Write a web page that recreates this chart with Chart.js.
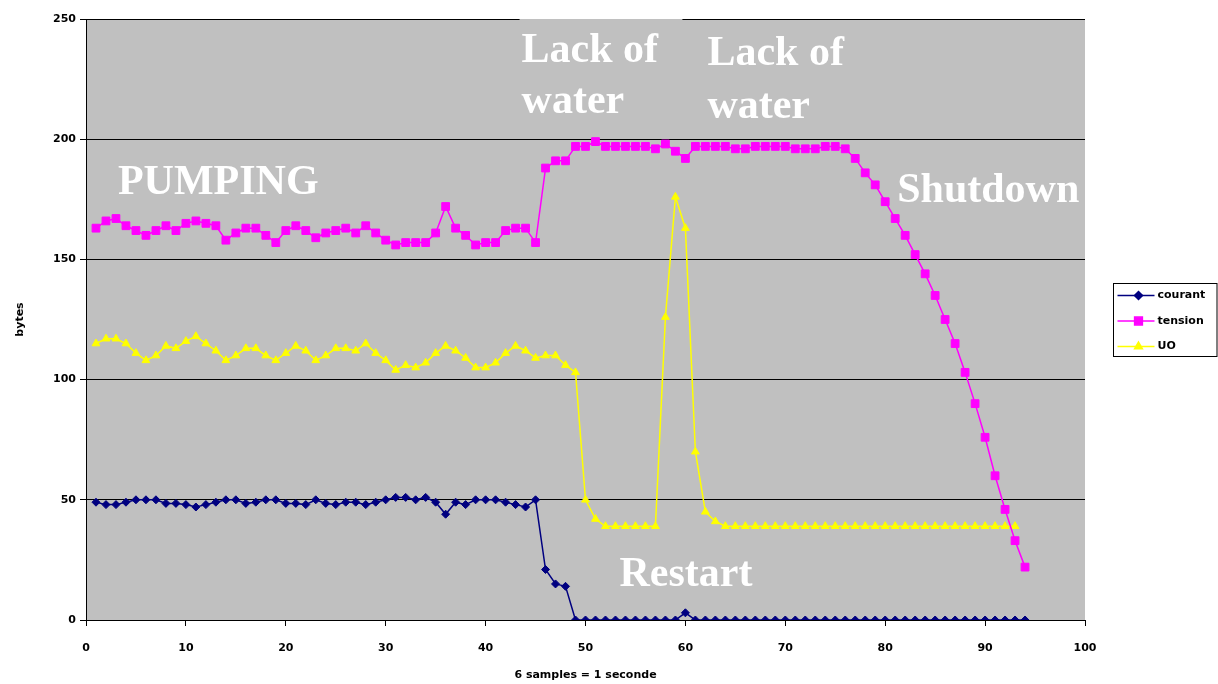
<!DOCTYPE html>
<html>
<head>
<meta charset="utf-8">
<script src="https://cdn.jsdelivr.net/npm/chart.js@4.4.1/dist/chart.umd.min.js"></script>
<style>
  html, body { margin: 0; padding: 0; background: #fff; }
  #wrap { width: 1218px; height: 684px; }
</style>
</head>
<body>
<div id="wrap"><canvas id="chart"></canvas></div>
<script>
const seriesNames = ['courant', 'tension', 'UO']

// one sample per x step, starting at 1
const courant = [
  49, 48, 48, 49, 50, 50, 50, 48.5, 48.5, 48,
  47, 48, 49, 50, 50, 48.5, 49, 50, 50, 48.5,
  48.5, 48, 50, 48.5, 48, 49, 49, 48, 49, 50,
  51, 51, 50, 51, 49, 44, 49, 48, 50, 50,
  50, 49, 48, 47, 50, 21, 15, 14, 0, 0,
  0, 0, 0, 0, 0, 0, 0, 0, 0, 3,
  0, 0, 0, 0, 0, 0, 0, 0, 0, 0,
  0, 0, 0, 0, 0, 0, 0, 0, 0, 0,
  0, 0, 0, 0, 0, 0, 0, 0, 0, 0,
  0, 0, 0, 0
]

const tension = [
  163, 166, 167, 164, 162, 160, 162, 164, 162, 165,
  166, 165, 164, 158, 161, 163, 163, 160, 157, 162,
  164, 162, 159, 161, 162, 163, 161, 164, 161, 158,
  156, 157, 157, 157, 161, 172, 163, 160, 156, 157,
  157, 162, 163, 163, 157, 188, 191, 191, 197, 197,
  199, 197, 197, 197, 197, 197, 196, 198, 195, 192,
  197, 197, 197, 197, 196, 196, 197, 197, 197, 197,
  196, 196, 196, 197, 197, 196, 192, 186, 181, 174,
  167, 160, 152, 144, 135, 125, 115, 103, 90, 76,
  60, 46, 33, 22
]

const uo = [
  115, 117, 117, 115, 111, 108, 110, 114, 113, 116,
  118, 115, 112, 108, 110, 113, 113, 110, 108, 111,
  114, 112, 108, 110, 113, 113, 112, 115, 111, 108,
  104, 106, 105, 107, 111, 114, 112, 109, 105, 105,
  107, 111, 114, 112, 109, 110, 110, 106, 103, 50,
  42, 39, 39, 39, 39, 39, 39, 126, 176, 163,
  70, 45, 41, 39, 39, 39, 39, 39, 39, 39,
  39, 39, 39, 39, 39, 39, 39, 39, 39, 39,
  39, 39, 39, 39, 39, 39, 39, 39, 39, 39,
  39, 39, 39
]

const yTicks = [0, 50, 100, 150, 200, 250]
const xTicks = [0, 10, 20, 30, 40, 50, 60, 70, 80, 90, 100]

// text notes placed in data units
const notes = [
  { text: 'PUMPING', x: 3.2, y: 177 },
  { text: 'Lack of', x: 43.6, y: 232 },
  { text: 'water', x: 43.6, y: 211 },
  { text: 'Lack of', x: 62.2, y: 231 },
  { text: 'water', x: 62.2, y: 209 },
  { text: 'Shutdown', x: 81.2, y: 174 },
  { text: 'Restart', x: 53.4, y: 14 }
]

const colors = ['#000080', '#ff00ff', '#ffff00']
const markers = ['rectRot', 'rect', 'triangle']
const markerSizes = [4, 5.5, 4.5]

const toPoints = arr => arr.map((v, i) => ({ x: i + 1, y: v }))

const tickFont = { family: '"DejaVu Sans", Arial, sans-serif', size: 11, weight: 'bold' }

const plotBackground = {
  id: 'plotBackground',
  beforeDraw(chart) {
    const { ctx, chartArea: a } = chart
    ctx.save()
    ctx.fillStyle = '#c0c0c0'
    ctx.fillRect(a.left, a.top, a.right - a.left, a.bottom - a.top)
    ctx.restore()
  },
  beforeDatasetsDraw(chart) {
    // grey box behind the first "Lack of water" note hides the top grid line
    const { ctx, scales: { x, y } } = chart
    ctx.save()
    ctx.fillStyle = '#c0c0c0'
    const l = x.getPixelForValue(43.4), r = x.getPixelForValue(59.7)
    ctx.fillRect(l, Math.floor(y.getPixelForValue(250)), r - l, 8)
    ctx.restore()
  }
}

const notesPlugin = {
  id: 'notes',
  afterDatasetsDraw(chart) {
    const { ctx, scales: { x, y } } = chart
    ctx.save()
    ctx.fillStyle = '#ffffff'
    ctx.font = 'bold 42px "Liberation Serif", "Times New Roman", serif'
    ctx.textAlign = 'left'
    ctx.textBaseline = 'alphabetic'
    notes.forEach(n => {
      ctx.fillText(n.text, x.getPixelForValue(n.x), y.getPixelForValue(n.y))
    })
    ctx.restore()
  }
}

const boxLegend = {
  id: 'boxLegend',
  afterDraw(chart) {
    const { ctx, chartArea: a } = chart
    const left = a.right + 28.5
    const top = 283.5
    ctx.save()
    ctx.fillStyle = '#ffffff'
    ctx.fillRect(left, top, 1217 - left, 73)
    ctx.strokeStyle = '#000'
    ctx.lineWidth = 1
    ctx.strokeRect(left, top, 1217 - left, 73)
    ctx.font = 'bold 11px "DejaVu Sans", Arial, sans-serif'
    ctx.textBaseline = 'middle'
    seriesNames.forEach((name, i) => {
      const cy = top + 12 + i * 25.5
      ctx.strokeStyle = colors[i]
      ctx.lineWidth = 1.5
      ctx.beginPath()
      ctx.moveTo(left + 4, cy)
      ctx.lineTo(left + 41, cy)
      ctx.stroke()
      ctx.fillStyle = colors[i]
      Chart.helpers.drawPoint(ctx, {
        pointStyle: markers[i],
        radius: markerSizes[i],
        rotation: 0,
        borderWidth: 1
      }, left + 25, cy)
      ctx.fillStyle = '#000'
      ctx.fillText(name, left + 44, cy)
    })
    ctx.restore()
  }
}

const seriesData = [courant, tension, uo]

new Chart(document.getElementById('chart'), {
  type: 'line',
  data: {
    datasets: seriesNames.map((name, i) => ({
      label: name,
      data: toPoints(seriesData[i]),
      borderColor: colors[i],
      backgroundColor: colors[i],
      borderWidth: 1.5,
      pointStyle: markers[i],
      pointRadius: markerSizes[i],
      pointBorderWidth: 1,
      pointBackgroundColor: colors[i],
      pointBorderColor: colors[i],
      tension: 0,
      fill: false
    }))
  },
  options: {
    responsive: true,
    maintainAspectRatio: false,
    animation: false,
    layout: {
      padding: { left: 0, top: 19, right: 133, bottom: 0 }
    },
    plugins: {
      legend: { display: false },
      tooltip: { enabled: false }
    },
    scales: {
      x: {
        type: 'linear',
        min: 0,
        max: 100,
        afterBuildTicks: s => { s.ticks = xTicks.map(v => ({ value: v })) },
        afterFit: s => { s.height = 64 },
        grid: {
          drawOnChartArea: false,
          drawTicks: true,
          tickLength: 6,
          color: '#000'
        },
        border: { color: '#000', width: 1 },
        ticks: {
          color: '#000',
          padding: 16,
          maxRotation: 0,
          font: tickFont
        },
        title: {
          display: true,
          text: '6 samples = 1 seconde',
          color: '#000',
          padding: { top: 0, bottom: 2 },
          font: tickFont
        }
      },
      y: {
        min: 0,
        max: 250,
        afterBuildTicks: s => { s.ticks = yTicks.map(v => ({ value: v })) },
        afterFit: s => { s.width = 86 },
        grid: {
          color: '#000',
          lineWidth: 1,
          drawTicks: true,
          tickLength: 6
        },
        border: { color: '#000', width: 1 },
        ticks: {
          color: '#000',
          padding: 4,
          font: tickFont
        },
        title: {
          display: true,
          text: 'bytes',
          color: '#000',
          padding: { top: 14, bottom: 0 },
          font: tickFont
        }
      }
    }
  },
  plugins: [plotBackground, notesPlugin, boxLegend]
})
</script>
</body>
</html>
